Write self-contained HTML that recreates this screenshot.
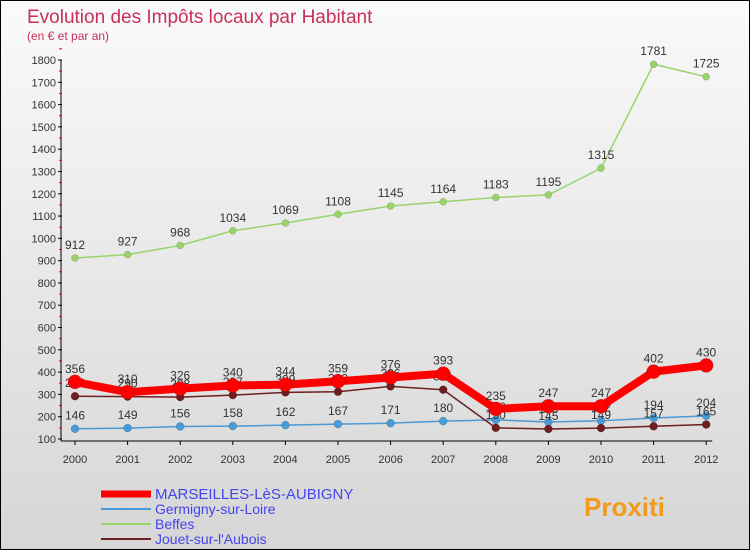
<!DOCTYPE html>
<html><head><meta charset="utf-8"><style>
body{margin:0}
#c{width:748px;height:548px;border:1px solid #000;position:relative;background:linear-gradient(#fafafa,#d6d6d6);font-family:"Liberation Sans",sans-serif;overflow:hidden}
</style></head><body>
<div id="c">
<svg id="s" width="748" height="548"></svg>
</div>
<script>
const years=["2000","2001","2002","2003","2004","2005","2006","2007","2008","2009","2010","2011","2012"];
const yTicks=[100,200,300,400,500,600,700,800,900,1000,1100,1200,1300,1400,1500,1600,1700,1800];
const marseilles=[356,310,326,340,344,359,376,393,235,247,247,402,430];
const germigny=[146,149,156,158,162,167,171,180,186,176,182,194,204];
const beffes=[912,927,968,1034,1069,1108,1145,1164,1183,1195,1315,1781,1725];
const jouet=[292,290,288,297,309,312,336,321,150,145,149,157,165];
const NS="http://www.w3.org/2000/svg";
const svg=document.getElementById('s');
const X=i=>74+i*52.6;
const Y=v=>438-(v-100)*(379/1700);
function mk(t,a,p){const e=document.createElementNS(NS,t);for(const k in a)e.setAttribute(k,a[k]);(p||svg).appendChild(e);return e;}
let e;
e=mk('text',{x:26,y:22,fill:'#c8305a','font-size':19});e.textContent='Evolution des Impôts locaux par Habitant';


e=mk('text',{x:26,y:39,fill:'#c8305a','font-size':12});e.textContent='(en € et par an)';


mk('line',{x1:60,y1:Y(1800),x2:60,y2:Y(100)+2,stroke:'#000'});
mk('line',{x1:60,y1:Y(100)+2,x2:X(12)+6,y2:Y(100)+2,stroke:'#000'});
yTicks.forEach(v=>{
 mk('line',{x1:57,y1:Y(v),x2:61,y2:Y(v),stroke:'#000'});
 mk('line',{x1:58,y1:Y(v+50),x2:61,y2:Y(v+50),stroke:'#e00'});
 e=mk('text',{x:55,y:Y(v)+4,'text-anchor':'end','font-size':11,fill:'#333'});e.textContent=v;
 
 
});
years.forEach((y,i)=>{
 mk('line',{x1:X(i),y1:Y(100)+2,x2:X(i),y2:Y(100)+6,stroke:'#000'});
 e=mk('text',{x:X(i),y:Y(100)+24,'text-anchor':'middle','font-size':11,fill:'#333'});e.textContent=y;
 
 
});
function series(d,col,w,r,name){
 const g=mk('g',{});
 
 
 mk('polyline',{points:d.map((v,i)=>X(i)+','+Y(v)).join(' '),fill:'none',stroke:col,'stroke-width':w},g);
 d.forEach((v,i)=>{
  const c=mk('circle',{cx:X(i),cy:Y(v),r:r,fill:col,stroke:'rgba(0,0,0,0.25)','stroke-width':0.5},g);
  
  
  const t=mk('text',{x:X(i),y:Y(v)-9,'text-anchor':'middle','font-size':12,fill:'#333'},g);t.textContent=v;
 });
}
series(beffes,'#9ad36a',1.5,3.5,'beffes-series');
series(germigny,'#4a9ad6',1.5,4,'germigny-series');
series(jouet,'#6e1e1e',1.5,4,'jouet-series');
series(marseilles,'#f00',8,7,'marseilles-series');
const leg=[['MARSEILLES-LèS-AUBIGNY','#f00',7],['Germigny-sur-Loire','#4a9ad6',2],['Beffes','#9ad36a',2],['Jouet-sur-l\'Aubois','#6e1e1e',2]];
leg.forEach((l,i)=>{
 const y=493+i*15;
 const g=mk('g',{});
 
 
 mk('line',{x1:100,y1:y,x2:150,y2:y,stroke:l[1],'stroke-width':l[2]},g);
 const t=mk('text',{x:154,y:y+5,'font-size':i==0?15:14,fill:'#4444ee'},g);t.textContent=l[0];
});
e=mk('text',{x:583,y:515,'font-size':26,'font-weight':'bold',fill:'#f29a1a'});e.textContent='Proxiti';


</script>
</body></html>
